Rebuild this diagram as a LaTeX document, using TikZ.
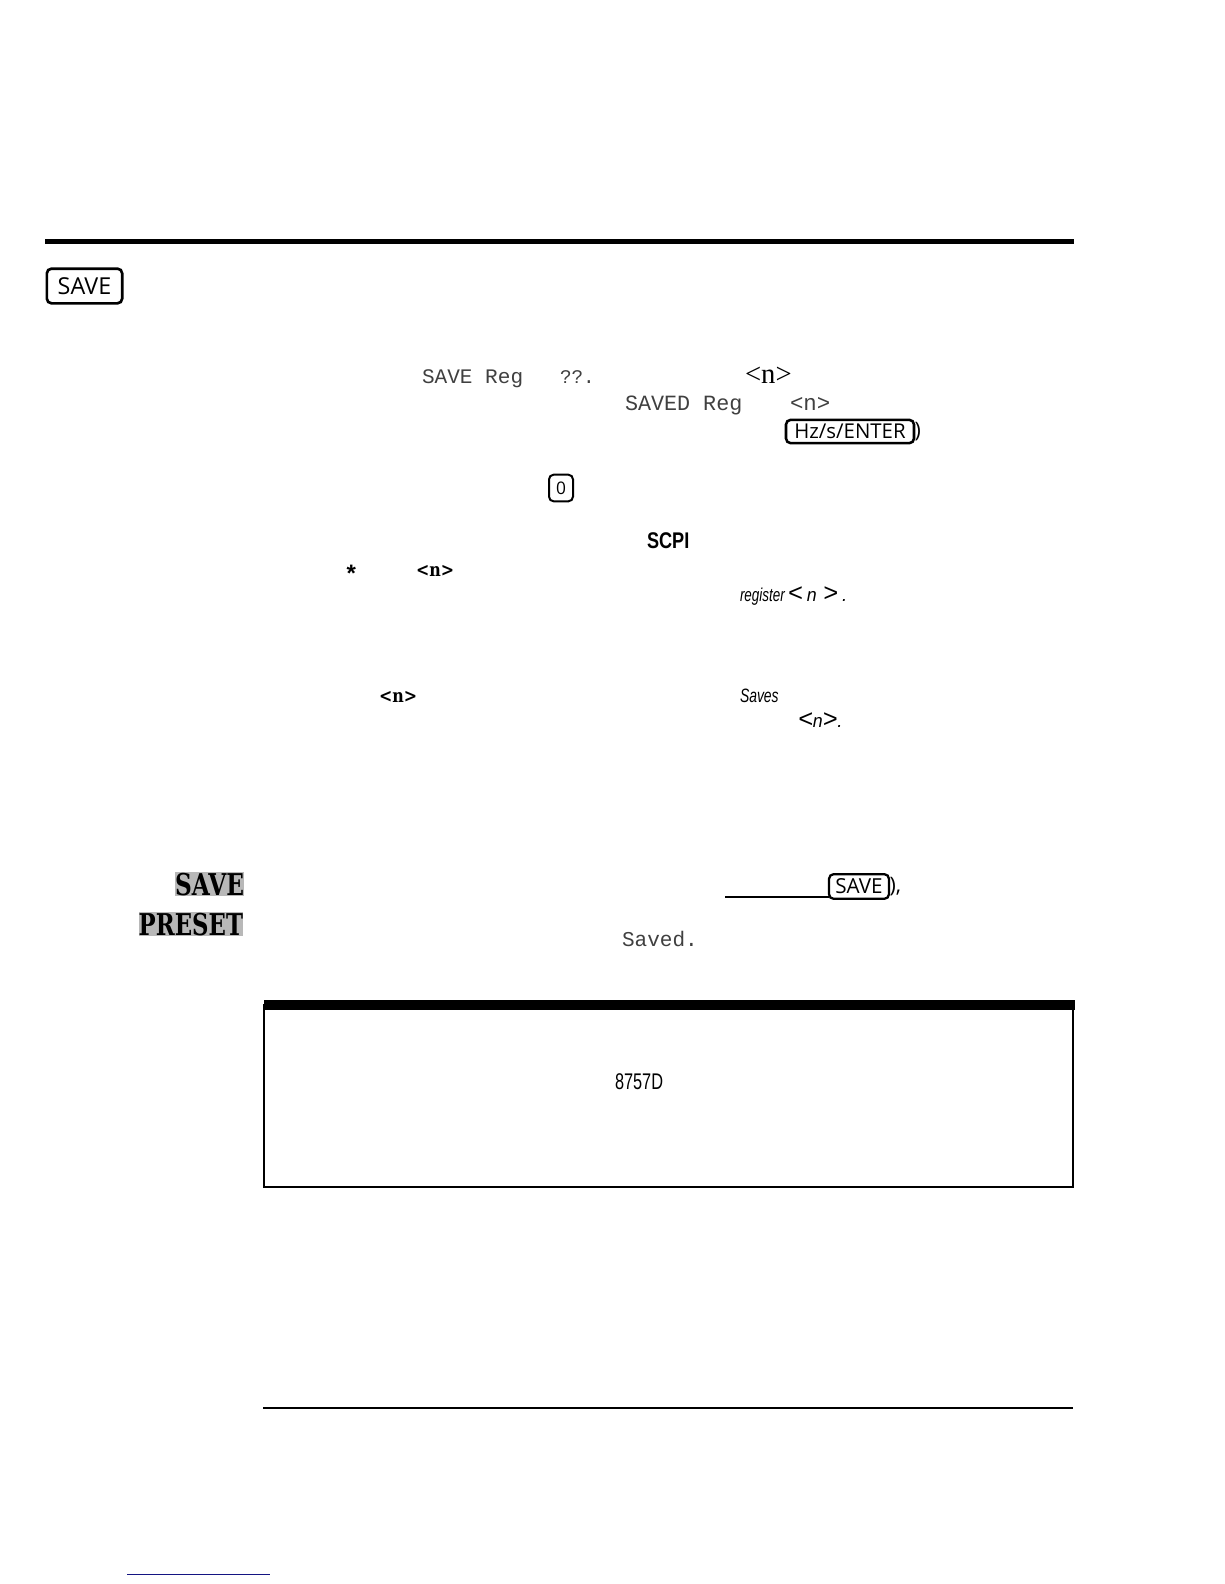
\documentclass[tikz,border=0pt]{standalone}
\usepackage{fontspec}
\usepackage{graphicx}
\setmainfont{Liberation Serif}
\newfontfamily\keyfont{Open Sans}
\newfontfamily\lcdfont{Liberation Mono}
\newfontfamily\heavyfont{Liberation Sans}
\newfontfamily\ttbold{DejaVu Serif}
\newcommand{\fsz}[1]{\fontsize{#1}{#1}\selectfont}
\tikzset{
  x=0.75pt,y=-0.75pt,
  lab/.style={inner sep=0pt,outer sep=0pt,anchor=base west,text=black},
  keycap/.style={draw=black,line width=1.7pt,rounded corners=3.5pt,inner sep=0pt,outer sep=0pt,anchor=center,font=\keyfont},
  lcd/.style={lab,text=black!75,font=\lcdfont},
  ttb/.style={lab,font=\ttbold\bfseries},
  shade/.style={inner xsep=0pt,inner ysep=0.5pt,outer sep=0pt,anchor=base east,text=black,fill=black!28},
  rulethick/.style={line width=#1*0.75pt,line cap=butt}
}
\begin{document}
\begin{tikzpicture}
\useasboundingbox (0,0) rectangle (1224,1584);
\fill[white] (0,0) rectangle (1224,1584);
% rules
\coordinate (r1a) at (45,241.5); \coordinate (r1b) at (1074,241.5);
\draw[rulethick=5] (r1a) -- (r1b);
% SAVE key heading
\node[keycap,line width=2pt,minimum width=56.5pt,minimum height=26pt,font=\keyfont\fsz{17.5}] (k1) at (84.5,286) {SAVE};
% LCD lines
\node[lcd,font=\lcdfont\fsz{15.5}] (t1) at (422,383) {\scalebox{1.02}[1]{SAVE Reg}};
\node[lcd,font=\lcdfont\fsz{14.5}] (t2) at (560,383) {??.};
\node[lab,font=\fsz{21.5}] (t3) at (745,383) {<n>};
\node[lcd,font=\lcdfont\fsz{16.3}] (t4) at (625,410) {SAVED Reg};
\node[lcd,font=\lcdfont\fsz{16.8}] (t5) at (790,410) {<n>};
\node[keycap,line width=1.9pt,minimum width=96pt,minimum height=17.5pt,font=\keyfont\fsz{15.3}] (k2) at (850,431.5) {Hz/s/ENTER};
\node[lab,font=\keyfont\fsz{16},anchor=west] (t6) at ([xshift=0.4pt]k2.east) {)};
\node[keycap,minimum width=18pt,minimum height=20pt,line width=1.5pt,font=\keyfont\fsz{13}] (k3) at (561,488) {0};
\node[lab,font=\heavyfont\bfseries\fsz{17}] (t7) at (647,548) {\scalebox{0.8}[1]{SCPI}};
\node[lab,font=\lcdfont\bfseries\fsz{18}] (t8) at (344,582) {*};
\node[ttb,font=\ttbold\bfseries\fsz{14}] (t9) at (416,576) {\scalebox{0.85}[1]{<n>}};
\node[lab,font=\heavyfont\itshape\fsz{14}] (t10) at (740,601) {\scalebox{0.72}[1]{register}\,\fsz{19}<\,\fsz{14}\scalebox{0.95}[1]{n}\,\,\fsz{19}>\,\fsz{14}.};
\node[ttb,font=\ttbold\bfseries\fsz{14}] (t11) at (379,702) {\scalebox{0.85}[1]{<n>}};
\node[lab,font=\heavyfont\itshape\fsz{14.5}] (t12) at (740,702) {\scalebox{0.72}[1]{Saves}};
\node[lab,font=\heavyfont\itshape\fsz{15}] (t13) at (798,727) {\fsz{19}<\fsz{14}\scalebox{0.95}[1]{n}\fsz{19}>\fsz{14}.};
% halftone labels
\node[shade,font=\ttbold\bfseries\fsz{22.5}] (s1) at (244,895) {\scalebox{0.775}[1]{SAVE}};
\node[shade,font=\ttbold\bfseries\fsz{22.5}] (s2) at (243,935) {\scalebox{0.76}[1]{PRESET}};
% underline and SAVE key
\node[keycap,minimum width=45pt,minimum height=18.5pt,font=\keyfont\fsz{15.5}] (k4) at (859,886.5) {SAVE};
\coordinate (u1) at (725,897);
\draw[rulethick=2.5] (u1) -- (u1 -| k4.west);
\node[lab,font=\keyfont\fsz{16},anchor=west] (t14) at ([xshift=0.4pt]k4.east) {),};
\node[lcd,font=\lcdfont\fsz{15.8}] (t15) at (622,946) {Saved.};
% box
\coordinate (b1) at (264,1005); \coordinate (b2) at (1073,1187);
\draw[line width=1.3pt] (b1) rectangle (b2);
\fill[black] (263.5,1000) rectangle (1074.5,1010);
\node[lab,font=\heavyfont\fsz{17}] (t16) at (615,1089) {\scalebox{0.72}[1]{8757D}};
% bottom rules
\coordinate (r2a) at (263,1408); \coordinate (r2b) at (1073,1408);
\draw[rulethick=2.5] (r2a) -- (r2b);
\coordinate (r3a) at (127,1574.5); \coordinate (r3b) at (270,1574.5);
\draw[rulethick=1.5,draw={rgb,255:red,20;green,20;blue,130}] (r3a) -- (r3b);
\end{tikzpicture}
\end{document}
